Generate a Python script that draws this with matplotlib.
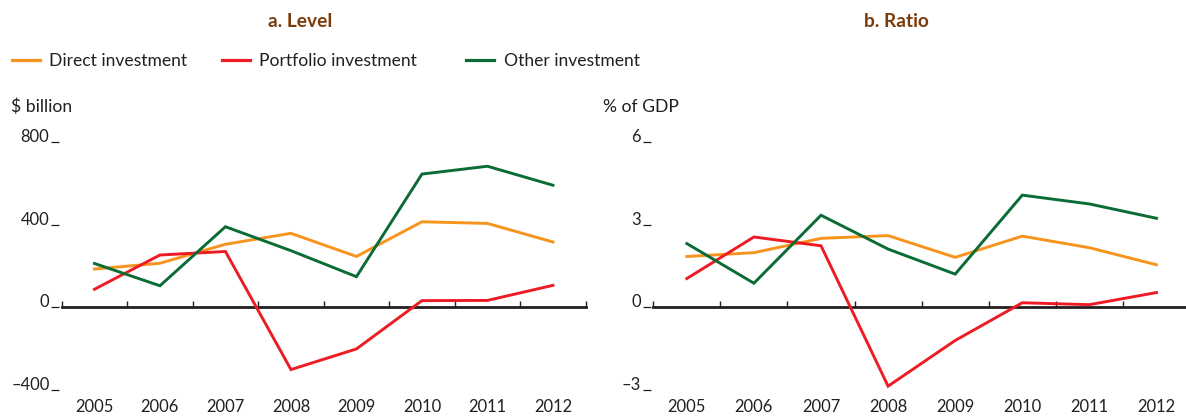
import matplotlib
matplotlib.use("Agg")
import matplotlib.pyplot as plt
from matplotlib.lines import Line2D

plt.rcParams['font.family'] = ['Lato', 'DejaVu Sans']

years = ["2005", "2006", "2007", "2008", "2009", "2010", "2011", "2012"]
series_names = ["Direct investment", "Portfolio investment", "Other investment"]

# Panel a: level, $ billion
level_direct = [186, 214, 306, 359, 247, 415, 407, 317]
level_portfolio = [88, 254, 271, -301, -201, 33, 34, 107]
level_other = [213, 105, 391, 275, 149, 646, 684, 592]

# Panel b: ratio, % of GDP
ratio_direct = [1.85, 1.99, 2.51, 2.61, 1.82, 2.59, 2.17, 1.55]
ratio_portfolio = [1.05, 2.56, 2.24, -2.86, -1.20, 0.17, 0.10, 0.54]
ratio_other = [2.32, 0.88, 3.35, 2.12, 1.21, 4.08, 3.76, 3.24]

level_ticks = [-400, 0, 400, 800]
ratio_ticks = [-3, 0, 3, 6]

colors = ["#F7941D", "#ED1C24", "#0B6B35"]
dark = "#231F20"
title_color = "#7A3B0C"

W, H = 1186, 416
fig = plt.figure(figsize=(W / 100, H / 100), dpi=100)

def px_axes(x0, x1, ytop, ybot):
    return fig.add_axes([x0 / W, 1 - ybot / H, (x1 - x0) / W, (ybot - ytop) / H])

ax1 = px_axes(61.7, 585.7, 142.3, 390.0)
ax2 = px_axes(653.3, 1190.0, 142.3, 390.0)

panels = [
    (ax1, [level_direct, level_portfolio, level_other], level_ticks),
    (ax2, [ratio_direct, ratio_portfolio, ratio_other], ratio_ticks),
]

x = list(range(len(years)))
for ax, data, yt in panels:
    for vals, c in zip(data, colors):
        ax.plot(x, vals, color=c, lw=2.1, solid_joinstyle='miter', zorder=3)
    ax.set_xlim(-0.5, len(years) - 0.5)
    ax.set_ylim(yt[0], yt[-1])
    for s in ["top", "right", "bottom"]:
        ax.spines[s].set_visible(False)
    ax.spines["left"].set_color("none")
    ax.spines["left"].set_position(("outward", 2))
    ax.set_yticks(yt)
    ax.set_yticklabels([str(v).replace("-", "\u2013") for v in yt])
    ax.tick_params(axis="y", direction="out", length=6, width=0.9, color=dark,
                   pad=0.8, labelsize=11.9, labelcolor=dark)
    for lbl in ax.get_yticklabels():
        lbl.set_verticalalignment("baseline")
    ax.set_xticks(x)
    ax.set_xticklabels(years)
    ax.tick_params(axis="x", length=0, pad=6.5, labelsize=11.9, labelcolor=dark)
    ax.patch.set_visible(False)
    # zero baseline with category boundary ticks
    sec = ax.secondary_xaxis(0, transform=ax.transData)
    sec.spines["bottom"].set_linewidth(2.0)
    sec.spines["bottom"].set_color(dark)
    sec.set_xticks([i - 0.5 for i in range(len(years) + 1)])
    sec.set_xticklabels([])
    sec.tick_params(axis="x", direction="in", length=4.5, width=1.0, color=dark)

fig.text(300 / W, 1 - 21.5 / H, "a. Level", ha="center", va="center",
         fontsize=13.8, fontweight="bold", color=title_color)
fig.text(896 / W, 1 - 21.5 / H, "b. Ratio", ha="center", va="center",
         fontsize=13.8, fontweight="bold", color=title_color)
fig.text(10.7 / W, 1 - 106.5 / H, "$ billion", ha="left", va="center",
         fontsize=12.6, color=dark)
fig.text(603 / W, 1 - 106.5 / H, "% of GDP", ha="left", va="center",
         fontsize=12.6, color=dark)

# legend entries placed at the reference positions (line start in px)
legend_x = [11.7, 221.7, 466.0]
for name, c, lx in zip(series_names, colors, legend_x):
    leg = fig.legend([Line2D([0], [0], color=c, lw=2.3)], [name],
                     loc="center left", bbox_to_anchor=(lx / W, 1 - 61.5 / H),
                     frameon=False, fontsize=12.6, handlelength=1.6,
                     handletextpad=0.55, labelcolor=dark,
                     borderaxespad=0, borderpad=0)

fig.savefig("out.png", dpi=100)
